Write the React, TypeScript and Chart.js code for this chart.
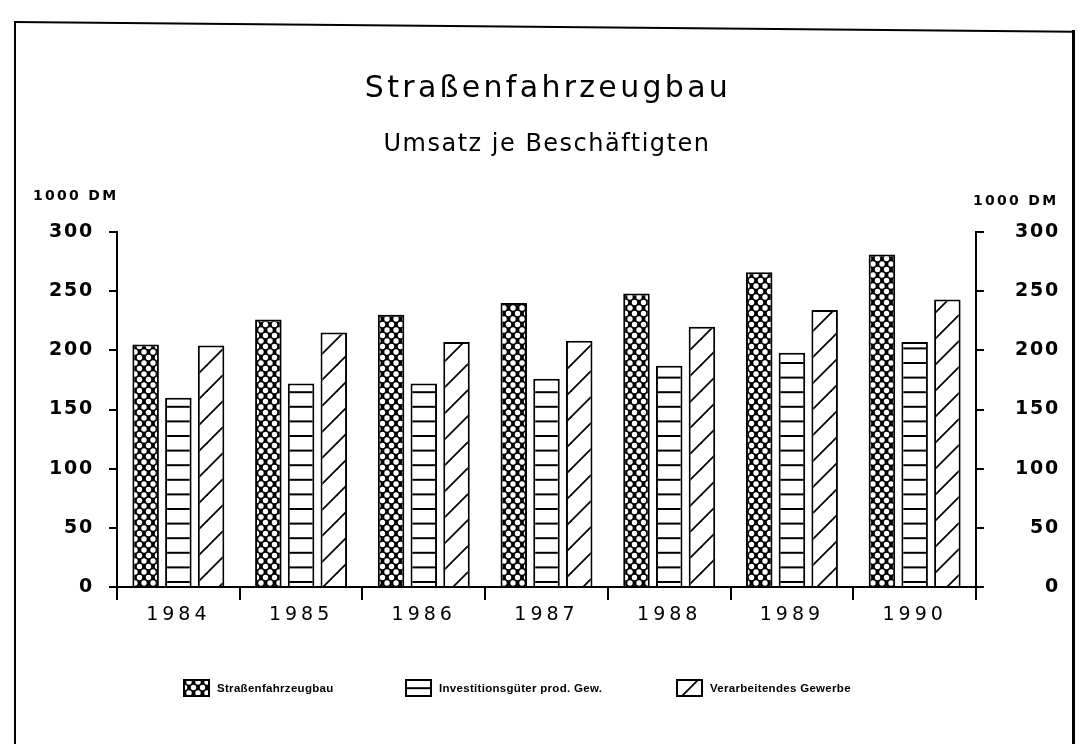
import React, { useEffect, useRef } from "react";
import { Chart, registerables } from "chart.js";

Chart.register(...registerables);

// ---- data ----
const years = ["1984", "1985", "1986", "1987", "1988", "1989", "1990"];
const strassenfahrzeugbau = [205, 226, 230, 240, 248, 266, 281];
const investitionsgueter = [160, 172, 172, 176, 187, 198, 207];
const verarbeitendesGewerbe = [204, 215, 207, 208, 220, 234, 243];
const seriesLabels = ["Straßenfahrzeugbau", "Investitionsgüter prod. Gew.", "Verarbeitendes Gewerbe"];
const yTickValues = [0, 50, 100, 150, 200, 250, 300];
const titleText = "Straßenfahrzeugbau";
const subtitleText = "Umsatz je Beschäftigten";
const unitText = "1000 DM";

// ---- patterns ----
function crossPattern(ctx: CanvasRenderingContext2D) {
  const w = 9;
  const h = 11;
  const c = document.createElement("canvas");
  c.width = w;
  c.height = h;
  const g = c.getContext("2d")!;
  g.fillStyle = "#000";
  g.fillRect(0, 0, w, h);
  g.fillStyle = "#fff";
  const holes = [[0, 0], [w, 0], [0, h], [w, h], [w / 2, h / 2]];
  for (const [x, y] of holes) {
    g.beginPath();
    g.arc(x, y, 2.7, 0, Math.PI * 2);
    g.fill();
  }
  return ctx.createPattern(c, "repeat")!;
}

function hLinePattern(ctx: CanvasRenderingContext2D) {
  const c = document.createElement("canvas");
  c.width = 4;
  c.height = 73;
  const g = c.getContext("2d")!;
  g.fillStyle = "#fff";
  g.fillRect(0, 0, 4, 73);
  g.fillStyle = "#000";
  for (let k = 0; k < 5; k++) {
    const y = 71 - k * 14.6;
    g.fillRect(0, y - 1, 4, 2);
  }
  return ctx.createPattern(c, "repeat")!;
}

function diagPattern(ctx: CanvasRenderingContext2D) {
  const s = 26;
  const c = document.createElement("canvas");
  c.width = s;
  c.height = s;
  const g = c.getContext("2d")!;
  g.fillStyle = "#fff";
  g.fillRect(0, 0, s, s);
  g.strokeStyle = "#000";
  g.lineWidth = 1.8;
  for (const off of [0, s, 2 * s]) {
    g.beginPath();
    g.moveTo(-2, off + 2);
    g.lineTo(off + 2, -2);
    g.stroke();
  }
  return ctx.createPattern(c, "repeat")!;
}

// letter spacing for each axis' tick labels
const AXIS_SPACING: Record<string, string> = { x: "4px", y: "1.8px", y2: "1.8px" };
const spacingPlugin = {
  id: "labelSpacing",
  afterLayout(chart: any) {
    Object.keys(chart.scales).forEach((id) => {
      const scale = chart.scales[id];
      if (scale._spacingPatched) return;
      const orig = scale.drawLabels;
      scale.drawLabels = function (area: any) {
        const ctx = this.ctx;
        const prev = ctx.letterSpacing;
        ctx.letterSpacing = AXIS_SPACING[id] || "0px";
        orig.call(this, area);
        ctx.letterSpacing = prev || "0px";
      };
      scale._spacingPatched = true;
    });
  },
};

const LEGEND_X = [184, 406, 677];
const patternLegend = {
  id: "patternLegend",
  afterDraw(chart: any) {
    const ctx = chart.ctx as CanvasRenderingContext2D;
    ctx.save();
    (ctx as any).letterSpacing = "0.3px";
    ctx.font = 'bold 11.5px "Liberation Sans", Arial, sans-serif';
    ctx.textBaseline = "alphabetic";
    ctx.textAlign = "left";
    chart.data.datasets.forEach((ds: any, i: number) => {
      const x = LEGEND_X[i];
      const y = 680;
      const w = 25;
      const h = 16;
      const pat = ds.backgroundColor;
      if (pat && typeof pat.setTransform === "function") {
        pat.setTransform(new DOMMatrix().translate(i === 1 ? 1 : 0, i === 1 ? 4 : 0));
      }
      ctx.fillStyle = pat;
      ctx.fillRect(x, y, w, h);
      if (pat && typeof pat.setTransform === "function") {
        pat.setTransform(new DOMMatrix());
      }
      ctx.lineWidth = 2;
      ctx.strokeStyle = "#000";
      ctx.strokeRect(x, y, w, h);
      ctx.fillStyle = "#000";
      ctx.fillText(ds.label, x + w + 8, y + 12);
    });
    ctx.restore();
  },
};

export default function App() {
  const ref = useRef<HTMLCanvasElement | null>(null);

  useEffect(() => {
    const canvas = ref.current!;
    const ctx = canvas.getContext("2d")!;
    Chart.defaults.font.family = '"DejaVu Sans", sans-serif';
    const yTicksFont = { family: '"DejaVu Sans", sans-serif', size: 19, weight: "bold" as const };
    const buildTicks = (s: any) => {
      s.ticks = yTickValues.map((v) => ({ value: v }));
    };
    const barStyle = {
      borderColor: "#000",
      borderWidth: 2,
      categoryPercentage: 0.8,
      barPercentage: 0.81,
      yAxisID: "y",
    };
    const chart = new Chart(ctx, {
      type: "bar",
      data: {
        labels: years,
        datasets: [
          { label: seriesLabels[0], data: strassenfahrzeugbau, backgroundColor: crossPattern(ctx) as any, ...barStyle },
          { label: seriesLabels[1], data: investitionsgueter, backgroundColor: hLinePattern(ctx) as any, ...barStyle },
          { label: seriesLabels[2], data: verarbeitendesGewerbe, backgroundColor: diagPattern(ctx) as any, ...barStyle },
        ],
      },
      options: {
        responsive: false,
        animation: false,
        layout: { padding: { left: 30, right: 20, top: 232, bottom: 117 } },
        plugins: {
          legend: { display: false },
          tooltip: { enabled: false },
          title: { display: false },
        },
        scales: {
          x: {
            type: "category",
            offset: true,
            grid: {
              display: true,
              offset: true,
              drawOnChartArea: false,
              drawTicks: true,
              tickLength: 13,
              color: "#000",
              lineWidth: 2,
            },
            border: { display: true, color: "#000", width: 2 },
            ticks: {
              color: "#000",
              font: { family: '"DejaVu Sans", sans-serif', size: 19 },
              padding: 4,
              maxRotation: 0,
              autoSkip: false,
            },
            afterFit: (s: any) => {
              s.height = 40;
            },
          },
          y: {
            position: "left",
            min: 0,
            max: 300,
            afterBuildTicks: buildTicks,
            grid: { drawOnChartArea: false, tickLength: 8, color: "#000", lineWidth: 2 },
            border: { display: true, color: "#000", width: 2 },
            ticks: { color: "#000", font: yTicksFont, padding: 15 },
            afterFit: (s: any) => {
              s.width = 87;
            },
          },
          y2: {
            position: "right",
            min: 0,
            max: 300,
            afterBuildTicks: buildTicks,
            grid: { drawOnChartArea: false, tickLength: 8, color: "#000", lineWidth: 2 },
            border: { display: true, color: "#000", width: 2 },
            ticks: { color: "#000", font: yTicksFont, padding: 14, crossAlign: "far" },
            afterFit: (s: any) => {
              s.width = 84;
            },
          },
        },
      },
      plugins: [spacingPlugin, patternLegend],
    });
    return () => chart.destroy();
  }, []);

  const textBase: React.CSSProperties = {
    position: "absolute",
    fontFamily: '"DejaVu Sans", sans-serif',
    color: "#000",
    whiteSpace: "nowrap",
  };

  return (
    <div style={{ position: "fixed", left: 0, top: 0, width: 1080, height: 744, background: "#fff", overflow: "hidden" }}>
      <canvas ref={ref} width={1080} height={744} style={{ position: "absolute", left: 0, top: 0 }} />
      {/* frame */}
      <div style={{ position: "absolute", left: 14, top: 22, width: 0, height: 760, borderLeft: "2px solid #000" }} />
      <div style={{ position: "absolute", left: 1072, top: 30, width: 0, height: 760, borderLeft: "3px solid #000" }} />
      <div
        style={{
          position: "absolute",
          left: 14,
          top: 21,
          width: 1061,
          height: 0,
          borderTop: "2px solid #000",
          transformOrigin: "left top",
          transform: "rotate(0.52deg)",
        }}
      />
      <div style={{ ...textBase, left: 0, width: 1096, textAlign: "center", top: 72, fontSize: 30, lineHeight: "30px", letterSpacing: "3.3px" }}>
        {titleText}
      </div>
      <div style={{ ...textBase, left: 0, width: 1094, textAlign: "center", top: 131, fontSize: 24, lineHeight: "24px", letterSpacing: "1.5px" }}>
        {subtitleText}
      </div>
      <div style={{ ...textBase, left: 33, top: 188, fontSize: 14, lineHeight: "14px", fontWeight: "bold", letterSpacing: "2.3px" }}>
        {unitText}
      </div>
      <div style={{ ...textBase, left: 973, top: 193, fontSize: 14, lineHeight: "14px", fontWeight: "bold", letterSpacing: "2.3px" }}>
        {unitText}
      </div>
    </div>
  );
}
